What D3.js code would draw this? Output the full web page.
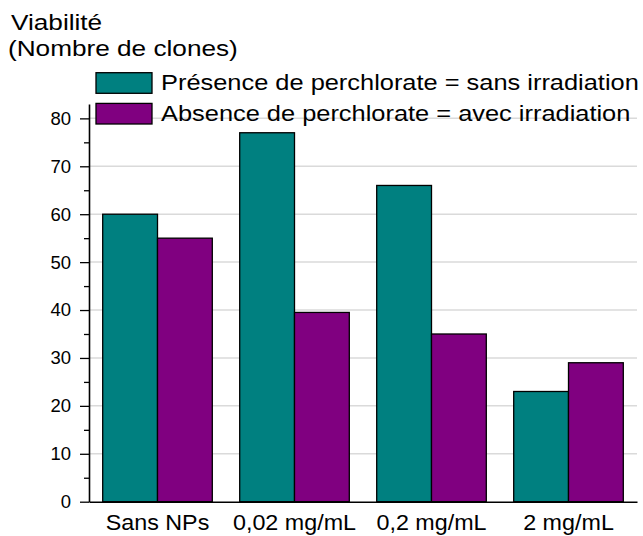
<!DOCTYPE html>
<html>
<head>
<meta charset="utf-8">
<script src="https://cdn.jsdelivr.net/npm/d3@7"></script>
<style>
  html, body { margin: 0; padding: 0; background: #fff; }
  svg { display: block; }
  text { font-family: "Liberation Sans", Arial, sans-serif; fill: #000; }
</style>
</head>
<body>
<svg id="chart" width="643" height="536"></svg>
<script>
// Viability (number of clones) by nanoparticle concentration
const categories = ["Sans NPs", "0,02 mg/mL", "0,2 mg/mL", "2 mg/mL"];
const seriesNames = [
  "Présence de perchlorate = sans irradiation",
  "Absence de perchlorate = avec irradiation"
];
const withPerchlorate = [60, 77, 66, 23];
const withoutPerchlorate = [55, 39.5, 35, 29];
const yTicks = [0, 10, 20, 30, 40, 50, 60, 70, 80];
const yMinorTicks = [5, 15, 25, 35, 45, 55, 65, 75];
const colors = ["#008080", "#800080"];

const series = [withPerchlorate, withoutPerchlorate];

const svg = d3.select("#chart");
const margin = { left: 89, right: 6, top: 104, bottom: 34.3 };
const W = 643, H = 536;

const y = d3.scaleLinear().domain([0, 83]).range([H - margin.bottom, margin.top]);
const x = d3.scaleBand().domain(categories)
  .range([margin.left, W - margin.right])
  .paddingInner(0.2).paddingOuter(0.1);
const xs = d3.scaleBand().domain(d3.range(series.length))
  .range([0, x.bandwidth()]);

// helper: text with a slight horizontal stretch
function stretchedText(sel, tx, ty, sx, str, size, anchor) {
  return sel.append("text")
    .attr("transform", `translate(${tx},${ty}) scale(${sx},1)`)
    .attr("font-size", size)
    .attr("text-anchor", anchor || "start")
    .text(str);
}

// horizontal gridlines
svg.append("g")
  .selectAll("line")
  .data(yTicks.filter(d => d > 0))
  .join("line")
  .attr("x1", margin.left).attr("x2", W - margin.right)
  .attr("y1", d => y(d)).attr("y2", d => y(d))
  .attr("stroke", "#dadada").attr("stroke-width", 1.5);

// bars
const groups = svg.append("g")
  .selectAll("g")
  .data(categories)
  .join("g")
  .attr("transform", d => `translate(${x(d)},0)`);

groups.selectAll("rect")
  .data((d, i) => series.map((s, k) => ({ k, v: s[i] })))
  .join("rect")
  .attr("x", d => xs(d.k))
  .attr("width", xs.bandwidth())
  .attr("y", d => y(d.v))
  .attr("height", d => y(0) - y(d.v))
  .attr("fill", d => colors[d.k])
  .attr("stroke", "#000")
  .attr("stroke-width", 1.3);

// y axis with major and minor ticks
const yAxis = svg.append("g")
  .attr("transform", `translate(${margin.left},0)`)
  .call(d3.axisLeft(y).tickValues(yTicks).tickSize(9).tickPadding(9).tickSizeOuter(0));
yAxis.select(".domain").attr("stroke", "#000").attr("stroke-width", 1.6);
yAxis.selectAll(".tick line").attr("stroke", "#000").attr("stroke-width", 1.3);
yAxis.selectAll(".tick text")
  .attr("font-size", 18.5)
  .attr("font-family", "Liberation Sans, Arial, sans-serif")
  .attr("fill", "#000");

svg.append("g")
  .attr("transform", `translate(${margin.left},0)`)
  .call(d3.axisLeft(y).tickValues(yMinorTicks).tickSize(5).tickFormat(""))
  .call(g => g.select(".domain").remove())
  .selectAll(".tick line").attr("stroke", "#000").attr("stroke-width", 1.3);

// x axis baseline (no ticks)
const xAxis = svg.append("g")
  .attr("transform", `translate(0,${y(0)})`)
  .call(d3.axisBottom(x).tickSize(0).tickSizeOuter(0).tickFormat(""));
xAxis.select(".domain").attr("stroke", "#000").attr("stroke-width", 1.6);

// category labels
categories.forEach(c => {
  stretchedText(svg, x(c) + x.bandwidth() / 2, 530, 1.06, c, 22, "middle");
});

// y axis title
stretchedText(svg, 11, 29.5, 1.19, "Viabilité", 22);
stretchedText(svg, 8, 55.5, 1.19, "(Nombre de clones)", 22);

// legend
const legend = svg.append("g");
seriesNames.forEach((name, k) => {
  const top = 72.7 + k * 30.7;
  legend.append("rect")
    .attr("x", 96).attr("y", top)
    .attr("width", 56).attr("height", 20.6)
    .attr("fill", colors[k])
    .attr("stroke", "#000").attr("stroke-width", 1.3);
  stretchedText(legend, 161, top + 17.6, 1.155, name, 22);
});
</script>
</body>
</html>
